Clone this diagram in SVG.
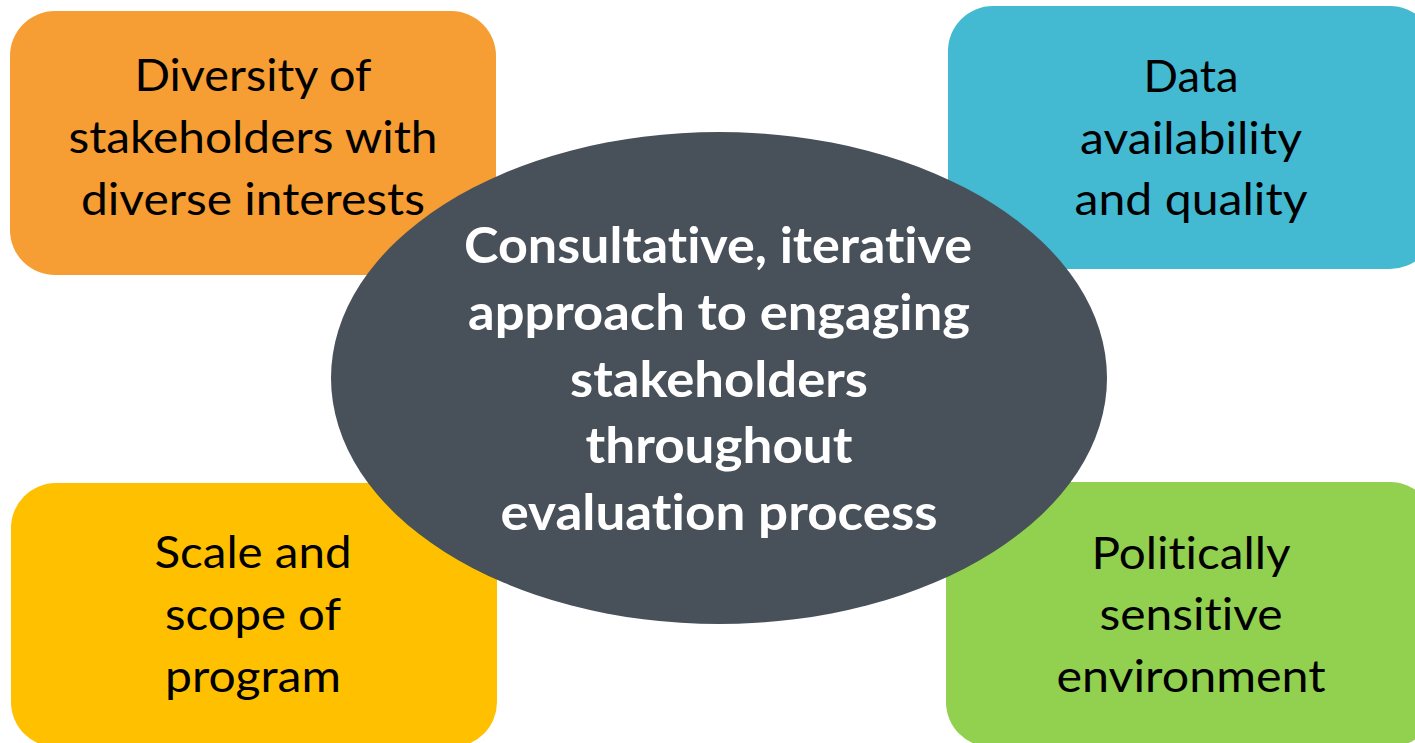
<svg xmlns="http://www.w3.org/2000/svg" width="1415" height="743" viewBox="0 0 1415 743">
  <style>
    .box { stroke: none; }
    .lbl { font-family: Lato, "Open Sans", "Liberation Sans", sans-serif; font-size: 45px; fill: #000000; text-anchor: middle; font-variant-ligatures: none; font-feature-settings: "liga" 0, "dlig" 0, "clig" 0; }
    .ctr { font-family: Lato, "Open Sans", "Liberation Sans", sans-serif; font-size: 49px; font-weight: bold; fill: #FFFFFF; text-anchor: middle; font-variant-ligatures: none; font-feature-settings: "liga" 0, "dlig" 0, "clig" 0; }
  </style>
  <rect x="0" y="0" width="1415" height="743" fill="#FFFFFF"/>
  <g id="node-diversity">
    <rect class="box" x="10" y="11" width="486" height="264" rx="45" ry="45" fill="#F69D33"/>
    <text class="lbl" x="253" y="91" textLength="237" lengthAdjust="spacingAndGlyphs">Diversity of</text>
    <text class="lbl" x="253" y="153" textLength="369" lengthAdjust="spacingAndGlyphs">stakeholders with</text>
    <text class="lbl" x="253" y="215" textLength="344" lengthAdjust="spacingAndGlyphs">diverse interests</text>
  </g>
  <g id="node-data">
    <rect class="box" x="948" y="6" width="487" height="263" rx="45" ry="45" fill="#43BAD2"/>
    <text class="lbl" x="1191" y="92" textLength="95" lengthAdjust="spacingAndGlyphs">Data</text>
    <text class="lbl" x="1191" y="154" textLength="222" lengthAdjust="spacingAndGlyphs">availability</text>
    <text class="lbl" x="1191" y="215" textLength="233" lengthAdjust="spacingAndGlyphs">and quality</text>
  </g>
  <g id="node-scale">
    <rect class="box" x="11" y="483" width="486" height="264" rx="45" ry="45" fill="#FFC000"/>
    <text class="lbl" x="253" y="568" textLength="197" lengthAdjust="spacingAndGlyphs">Scale and</text>
    <text class="lbl" x="253" y="630" textLength="176" lengthAdjust="spacingAndGlyphs">scope of</text>
    <text class="lbl" x="253" y="692" textLength="176" lengthAdjust="spacingAndGlyphs">program</text>
  </g>
  <g id="node-political">
    <rect class="box" x="946" y="482" width="489" height="265" rx="45" ry="45" fill="#92D050"/>
    <text class="lbl" x="1191" y="569" textLength="199" lengthAdjust="spacingAndGlyphs">Politically</text>
    <text class="lbl" x="1191" y="630" textLength="183" lengthAdjust="spacingAndGlyphs">sensitive</text>
    <text class="lbl" x="1191" y="692" textLength="269" lengthAdjust="spacingAndGlyphs">environment</text>
  </g>
  <g id="node-center">
    <ellipse cx="719" cy="378" rx="388" ry="246" fill="#48505A"/>
    <text class="ctr" x="718" y="263" textLength="508" lengthAdjust="spacingAndGlyphs">Consultative, iterative</text>
    <text class="ctr" x="719" y="330" textLength="502" lengthAdjust="spacingAndGlyphs">approach to engaging</text>
    <text class="ctr" x="719" y="397" textLength="298" lengthAdjust="spacingAndGlyphs">stakeholders</text>
    <text class="ctr" x="719" y="463" textLength="267" lengthAdjust="spacingAndGlyphs">throughout</text>
    <text class="ctr" x="719" y="530" textLength="437" lengthAdjust="spacingAndGlyphs">evaluation process</text>
  </g>
</svg>
